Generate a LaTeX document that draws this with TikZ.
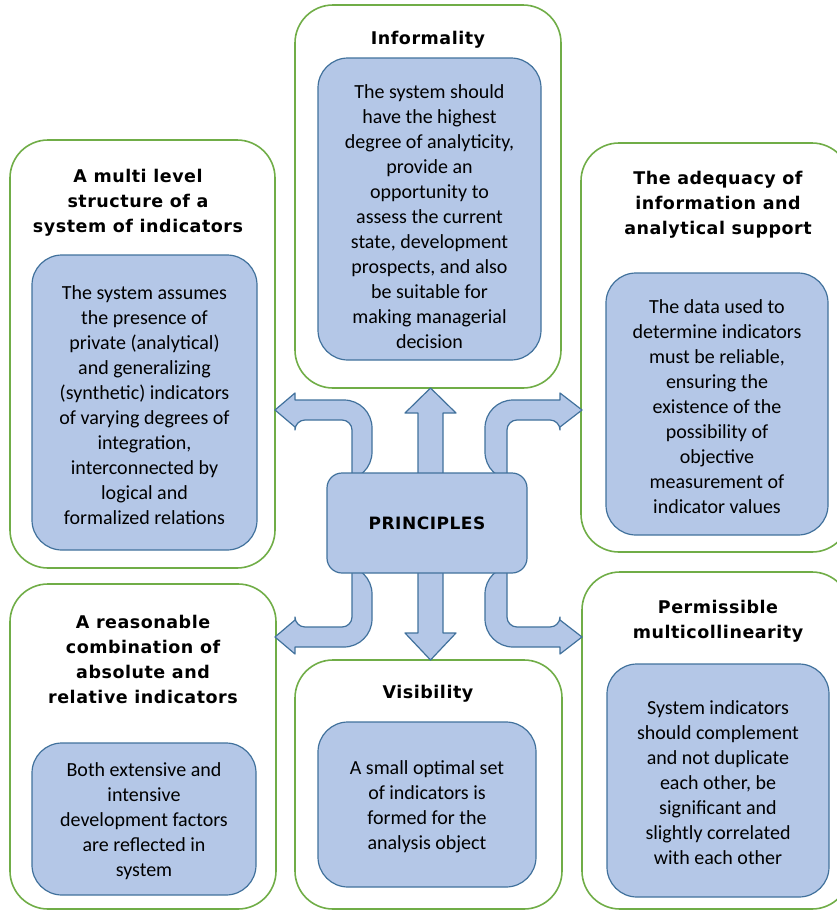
\documentclass[tikz,border=0pt]{standalone}
\usepackage{fontspec}
\setmainfont{Carlito}
\newfontfamily\headfamily[LetterSpace=3]{DejaVu Sans}
\usetikzlibrary{positioning}

\definecolor{boxgreen}{HTML}{70AD47}
\definecolor{fillblue}{HTML}{B4C7E7}
\definecolor{lineblue}{HTML}{41719C}

\begin{document}
\begin{tikzpicture}[x=1pt,y=-1pt,
outerbox/.style={draw=boxgreen, line width=1.6pt, rounded corners=38pt, inner sep=0pt},
bodybox/.style={draw=lineblue, fill=fillblue, line width=1.2pt, rounded corners=30pt,
  align=center, inner sep=0pt, font=\fontsize{20}{25}\selectfont},
headtext/.style={align=center, font=\headfamily\bfseries\fontsize{17.5}{25}\selectfont},
blockarrow/.style={draw=lineblue, fill=fillblue, line width=1.2pt, line join=round},
]
\useasboundingbox (0,0) rectangle (837,911);

% Outer frames
\node[outerbox, minimum width=266, minimum height=383](o1) at (428,196.5){};
\node[outerbox, minimum width=265, minimum height=428](o2) at (142.5,354){};
\node[outerbox, minimum width=269, minimum height=409](o3) at (715.5,347.5){};
\node[outerbox, minimum width=266, minimum height=325](o4) at (143,746.5){};
\node[outerbox, minimum width=267, minimum height=249](o5) at (428.5,784.5){};
\node[outerbox, minimum width=268, minimum height=337](o6) at (716,740.5){};

% Headings
\node[headtext](t1) at (428,40){Informality};
\node[headtext](t2) at (138,203){A multi level\\structure of a\\system of indicators};
\node[headtext](t3) at (718,205){The adequacy of\\information and\\analytical support};
\node[headtext](t4) at (143,659){A reasonable\\combination of\\absolute and\\relative indicators};
\node[headtext](t5) at (428,694){Visibility};
\node[headtext](t6) at (718,621){Permissible\\multicollinearity};

% Bodies
\node[bodybox, minimum width=223, minimum height=302](b1) at (429.5,209){\rule{0pt}{29pt}The system should\\have the highest\\degree of analyticity,\\provide an\\opportunity to\\assess the current\\state, development\\prospects, and also\\be suitable for\\making managerial\\decision};
\node[bodybox, minimum width=225, minimum height=295](b2) at (144.5,402.5){\rule{0pt}{19pt}The system assumes\\the presence of\\private (analytical)\\and generalizing\\(synthetic) indicators\\of varying degrees of\\integration,\\interconnected by\\logical and\\formalized relations};
\node[bodybox, minimum width=222, minimum height=262](b3) at (717,404){\rule{0pt}{19pt}The data used to\\determine indicators\\must be reliable,\\ensuring the\\existence of the\\possibility of\\objective\\measurement of\\indicator values};
\node[bodybox, minimum width=224, minimum height=152](b4) at (144,819){\rule{0pt}{19pt}Both extensive and\\intensive\\development factors\\are reflected in\\system};
\node[bodybox, minimum width=218, minimum height=165](b5) at (427,804.5){\rule{0pt}{19pt}A small optimal set\\of indicators is\\formed for the\\analysis object};
\node[bodybox, minimum width=222, minimum height=233](b6) at (718,780.5){\rule{0pt}{19pt}System indicators\\should complement\\and not duplicate\\each other, be\\significant and\\slightly correlated\\with each other};

% Arrows
\draw[blockarrow] (418,480) -- (418,413) -- (405,413) -- (430.5,388) -- (456,413) -- (443,413) -- (443,480) -- cycle;
\draw[blockarrow] (418,566) -- (418,633) -- (405,633) -- (430.5,660) -- (456,633) -- (443,633) -- (443,566) -- cycle;
\draw[blockarrow] (352,480) [rounded corners=10pt] -- (352,420) -- (295,420) [sharp corners] -- (295,427) -- (275,410) -- (295,393) -- (295,400) [rounded corners=28pt] -- (372,400) -- (372,480) [sharp corners] -- cycle;
\draw[blockarrow] (507,480) [rounded corners=10pt] -- (507,420) -- (560,420) [sharp corners] -- (560,427) -- (582,410) -- (560,393) -- (560,400) [rounded corners=28pt] -- (485,400) -- (485,480) [sharp corners] -- cycle;
\draw[blockarrow] (352,566) [rounded corners=10pt] -- (352,627) -- (295,627) [sharp corners] -- (295,620) -- (275,637) -- (295,654) -- (295,647) [rounded corners=28pt] -- (372,647) -- (372,566) [sharp corners] -- cycle;
\draw[blockarrow] (507,566) [rounded corners=10pt] -- (507,627) -- (560,627) [sharp corners] -- (560,620) -- (582,637) -- (560,654) -- (560,647) [rounded corners=28pt] -- (485,647) -- (485,566) [sharp corners] -- cycle;

% Centre
\node[draw=lineblue, fill=fillblue, line width=1.2pt, rounded corners=15pt,
  minimum width=200, minimum height=100, font=\headfamily\bfseries\fontsize{17}{20}\selectfont](pr) at (427,523){PRINCIPLES};

\end{tikzpicture}
\end{document}
